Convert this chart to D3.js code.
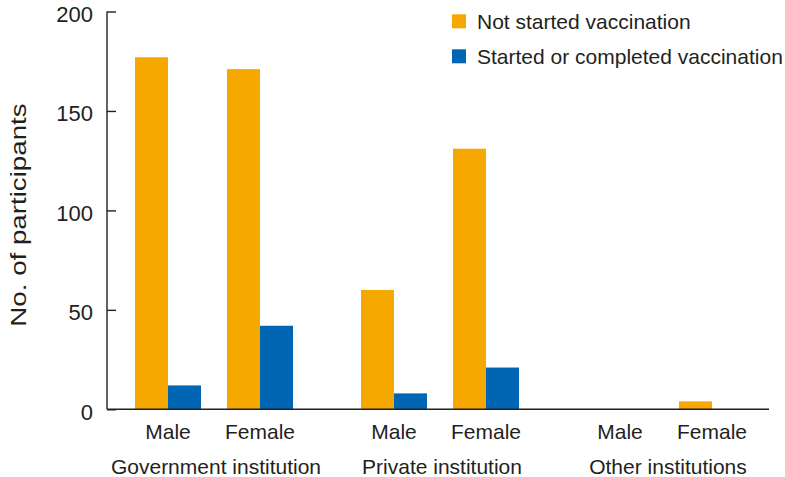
<!DOCTYPE html>
<html>
<head>
<meta charset="utf-8">
<script src="https://cdn.jsdelivr.net/npm/d3@7"></script>
<style>
  html, body { margin: 0; padding: 0; background: #fff; }
  svg { display: block; }
  text { font-family: "Liberation Sans", Arial, sans-serif; fill: #231f20; }
</style>
</head>
<body>
<svg id="chart" width="785" height="477"></svg>
<script>
const groups = ["Government institution", "Private institution", "Other institutions"];
const sexes = ["Male", "Female"];
const seriesNames = ["Not started vaccination", "Started or completed vaccination"];
const notStarted = [177, 171, 60, 131, 0, 4];
const started = [12, 42, 8, 21, 0, 0];
const yTicks = [0, 50, 100, 150, 200];
const colors = ["#f5a800", "#0066b3"];

const rows = [];
groups.forEach((g, gi) => sexes.forEach((s, si) => {
  const i = gi * sexes.length + si;
  rows.push({ group: g, sex: s, values: [notStarted[i], started[i]] });
}));

const svg = d3.select("#chart");
const axisLeftX = 107, axisRightX = 769;

const y = d3.scaleLinear().domain([0, 200]).range([409.3, 11.5]);
const x0 = d3.scaleBand().domain(groups).range([101, 779]).padding(0);
const x1 = d3.scaleBand().domain(sexes).range([0, x0.bandwidth()])
  .paddingInner(0.2826).paddingOuter(0.3696);
const x2 = d3.scaleBand().domain(seriesNames).range([0, x1.bandwidth()]).padding(0);

// Bars
const gSel = svg.append("g").selectAll("g").data(rows).join("g")
  .attr("transform", d => `translate(${x0(d.group) + x1(d.sex)},0)`);
gSel.selectAll("rect")
  .data(d => d.values.map((v, k) => ({ v, k })))
  .join("rect")
  .attr("x", d => x2(seriesNames[d.k]))
  .attr("width", x2.bandwidth())
  .attr("y", d => y(d.v))
  .attr("height", d => y(0) - y(d.v))
  .attr("fill", d => colors[d.k]);

// Y axis
const yAxis = d3.axisRight(y).tickValues(yTicks).tickSize(9).tickFormat("");
const ya = svg.append("g").attr("transform", `translate(${axisLeftX},0)`).call(yAxis);
ya.select(".domain").attr("d", `M0,${y(200)}V${y(0)}`).attr("stroke", "#231f20").attr("stroke-width", 1.4);
ya.selectAll(".tick line").attr("stroke", "#231f20").attr("stroke-width", 1.4);

svg.append("g").selectAll("text").data(yTicks).join("text")
  .attr("x", 93)
  .attr("y", d => y(d) + 10.5)
  .attr("text-anchor", "end")
  .attr("font-size", 22)
  .text(d => d);

// X baseline
svg.append("line")
  .attr("x1", axisLeftX).attr("x2", axisRightX)
  .attr("y1", y(0)).attr("y2", y(0))
  .attr("stroke", "#231f20").attr("stroke-width", 1.4);

// Sex labels
svg.append("g").selectAll("text").data(rows).join("text")
  .attr("x", d => x0(d.group) + x1(d.sex) + x1.bandwidth() / 2)
  .attr("y", 439)
  .attr("text-anchor", "middle")
  .attr("font-size", 21)
  .text(d => d.sex);

// Group labels
svg.append("g").selectAll("text").data(groups).join("text")
  .attr("x", d => x0(d) + x0.bandwidth() / 2 + 2)
  .attr("y", 474)
  .attr("text-anchor", "middle")
  .attr("font-size", 21)
  .text(d => d);

// Y title (wide lettering in the reference)
svg.append("text")
  .attr("transform", "translate(25.5,215) rotate(-90) scale(1.26,1)")
  .attr("text-anchor", "middle")
  .attr("font-size", 22)
  .text("No. of participants");

// Legend
const leg = svg.append("g").selectAll("g").data(seriesNames).join("g")
  .attr("transform", (d, i) => `translate(452,${14.3 + i * 35})`);
leg.append("rect").attr("width", 14).attr("height", 14).attr("fill", (d, i) => colors[i]);
leg.append("text").attr("x", 25).attr("y", 15).attr("font-size", 21).text(d => d);
</script>
</body>
</html>
